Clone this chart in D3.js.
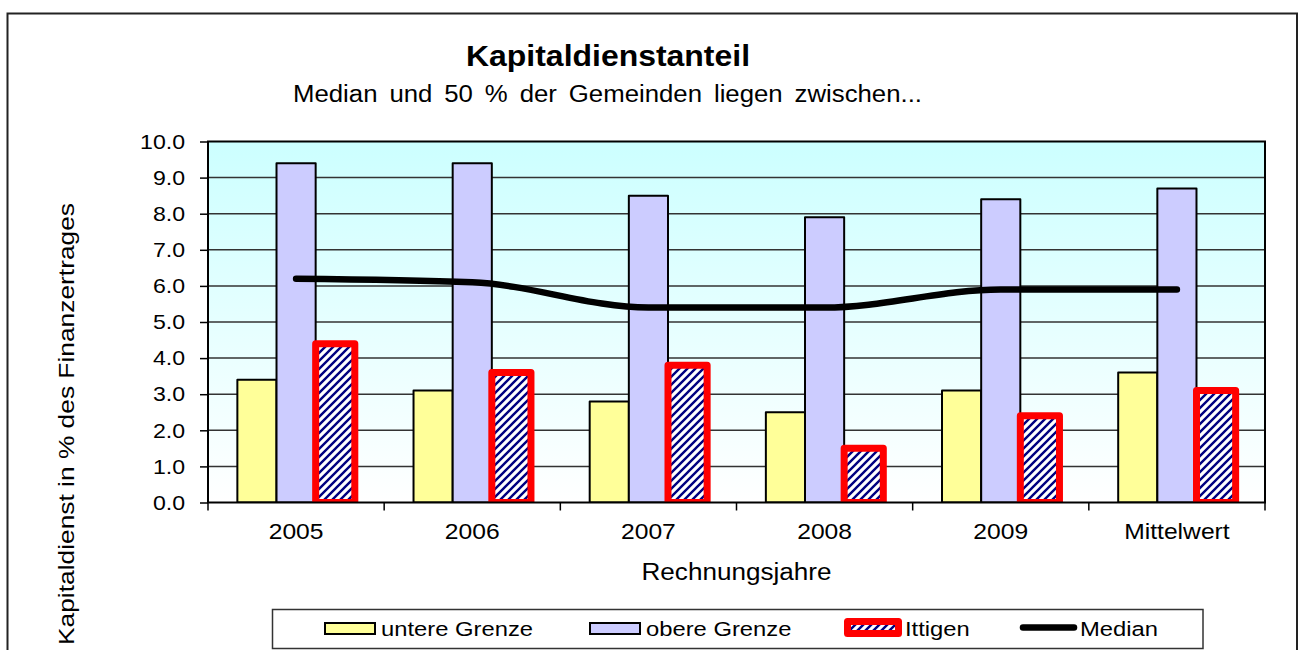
<!DOCTYPE html>
<html>
<head>
<meta charset="utf-8">
<script src="https://cdn.jsdelivr.net/npm/d3@7"></script>
<style>
  body { margin: 0; background: #fff; }
  text { font-family: "Liberation Sans", Arial, sans-serif; fill: #000; }
</style>
</head>
<body>
<div id="chart"></div>
<script>
  // data
  var categories = ["2005", "2006", "2007", "2008", "2009", "Mittelwert"];
  var untereGrenze = [3.4, 3.1, 2.8, 2.5, 3.1, 3.6];
  var obereGrenze = [9.4, 9.4, 8.5, 7.9, 8.4, 8.7];
  var ittigen = [4.4, 3.6, 3.8, 1.5, 2.4, 3.1];
  var median = [6.2, 6.1, 5.4, 5.4, 5.9, 5.9];
  var yTicks = [0, 1, 2, 3, 4, 5, 6, 7, 8, 9, 10];

  var W = 1301, H = 650;
  var plot = {left: 208, right: 1265, top: 141.5, bottom: 502.5};

  // widen text a little, the original font runs wider than Arial
  function stretch(sel, k) {
    sel.each(function() {
      var L = this.getComputedTextLength();
      d3.select(this).attr("textLength", L * k).attr("lengthAdjust", "spacingAndGlyphs");
    });
  }

  var svg = d3.select("#chart").append("svg")
    .attr("width", W)
    .attr("height", H);

  var defs = svg.append("defs");
  var grad = defs.append("linearGradient")
    .attr("id", "bg").attr("x1", 0).attr("y1", 0).attr("x2", 0).attr("y2", 1);
  grad.append("stop").attr("offset", "0%").attr("stop-color", "#ccffff");
  grad.append("stop").attr("offset", "100%").attr("stop-color", "#ffffff");

  var pat = defs.append("pattern")
    .attr("id", "hatch").attr("patternUnits", "userSpaceOnUse")
    .attr("width", 8).attr("height", 8);
  pat.append("rect").attr("width", 8).attr("height", 8).attr("fill", "#fff");
  pat.append("path")
    .attr("d", "M-2,2 L2,-2 M0,8 L8,0 M6,10 L10,6")
    .attr("stroke", "#000080").attr("stroke-width", 2.4);

  defs.append("clipPath").attr("id", "plotclip")
    .append("rect")
      .attr("x", plot.left).attr("y", plot.top)
      .attr("width", plot.right - plot.left).attr("height", plot.bottom - plot.top);

  // outer frame
  svg.append("rect")
    .attr("x", 7.5).attr("y", 13.5).attr("width", 1289.5).attr("height", 650)
    .attr("fill", "none").attr("stroke", "#222").attr("stroke-width", 2);

  // scales
  var x = d3.scaleBand().domain(categories).range([plot.left, plot.right]).padding(0);
  var x1 = d3.scaleBand().domain(["u", "o", "i"]).range([0, x.bandwidth()])
    .paddingInner(0).paddingOuter(0.75);
  var y = d3.scaleLinear().domain([0, 10]).range([plot.bottom, plot.top]);

  // plot background + grid
  svg.append("rect")
    .attr("x", plot.left).attr("y", plot.top)
    .attr("width", plot.right - plot.left).attr("height", plot.bottom - plot.top)
    .attr("fill", "url(#bg)");

  svg.append("g")
    .selectAll("line")
    .data(yTicks.slice(1, -1))
    .enter().append("line")
      .attr("x1", plot.left).attr("x2", plot.right)
      .attr("y1", function(d) { return y(d); })
      .attr("y2", function(d) { return y(d); })
      .attr("stroke", "#333").attr("stroke-width", 1.5);

  // bars
  var bars = svg.append("g").attr("clip-path", "url(#plotclip)");
  var series = [
    {key: "u", values: untereGrenze, fill: "#ffff99", stroke: "#000", sw: 2},
    {key: "o", values: obereGrenze, fill: "#ccccff", stroke: "#000", sw: 2},
    {key: "i", values: ittigen, fill: "url(#hatch)", stroke: "#ff0000", sw: 7}
  ];
  series.forEach(function(s) {
    bars.append("g")
      .selectAll("rect")
      .data(categories)
      .enter().append("rect")
        .attr("x", function(d) { return x(d) + x1(s.key); })
        .attr("y", function(d, i) { return y(s.values[i]); })
        .attr("width", x1.bandwidth())
        .attr("height", function(d, i) { return plot.bottom - y(s.values[i]); })
        .attr("fill", s.fill)
        .attr("stroke", s.stroke)
        .attr("stroke-width", s.sw)
        .attr("stroke-linejoin", "round");
  });

  // plot border
  svg.append("rect")
    .attr("x", plot.left).attr("y", plot.top)
    .attr("width", plot.right - plot.left).attr("height", plot.bottom - plot.top)
    .attr("fill", "none").attr("stroke", "#000").attr("stroke-width", 2);

  // y axis
  var yAxis = svg.append("g")
    .attr("transform", "translate(" + plot.left + ",0)")
    .call(d3.axisLeft(y).tickValues(yTicks).tickFormat(d3.format(".1f"))
      .tickSize(8).tickPadding(15).tickSizeOuter(0));
  yAxis.select(".domain").remove();
  yAxis.selectAll("line").attr("stroke", "#000").attr("stroke-width", 1.5);
  yAxis.selectAll("text").style("font-size", "21px").attr("fill", "#000")
    .call(stretch, 1.1);

  // x axis
  var xAxis = svg.append("g")
    .attr("transform", "translate(0," + plot.bottom + ")")
    .call(d3.axisBottom(x).tickSize(0).tickPadding(21));
  xAxis.select(".domain").remove();
  xAxis.selectAll("text").style("font-size", "22px").attr("fill", "#000")
    .call(stretch, 1.12);
  var edges = categories.map(function(c) { return x(c); }).concat([plot.right]);
  svg.append("g")
    .selectAll("line")
    .data(edges)
    .enter().append("line")
      .attr("x1", function(d) { return d; }).attr("x2", function(d) { return d; })
      .attr("y1", plot.bottom).attr("y2", plot.bottom + 8)
      .attr("stroke", "#000").attr("stroke-width", 1.5);

  // median line
  var line = d3.line()
    .x(function(d, i) { return x(categories[i]) + x.bandwidth() / 2; })
    .y(function(d) { return y(d); })
    .curve(d3.curveMonotoneX);
  svg.append("path")
    .datum(median)
    .attr("d", line)
    .attr("fill", "none")
    .attr("stroke", "#000")
    .attr("stroke-width", 6.5)
    .attr("stroke-linecap", "round");

  // titles
  svg.append("text")
    .attr("x", 608).attr("y", 66)
    .attr("text-anchor", "middle")
    .style("font-size", "29px").style("font-weight", "bold")
    .text("Kapitaldienstanteil")
    .attr("textLength", 284).attr("lengthAdjust", "spacingAndGlyphs");

  var sub = svg.append("text")
    .attr("x", 607.5).attr("y", 102)
    .attr("text-anchor", "middle")
    .style("font-size", "23px")
    .text("Median und 50 % der Gemeinden liegen zwischen...");
  var L0 = sub.node().getComputedTextLength();
  sub.style("word-spacing", ((629 / 1.12 - L0) / 7) + "px")
    .attr("textLength", 629).attr("lengthAdjust", "spacingAndGlyphs");

  svg.append("text")
    .attr("x", (plot.left + plot.right) / 2).attr("y", 580)
    .attr("text-anchor", "middle")
    .style("font-size", "23px")
    .text("Rechnungsjahre")
    .attr("textLength", 190).attr("lengthAdjust", "spacingAndGlyphs");

  svg.append("text")
    .attr("transform", "translate(74,424) rotate(-90)")
    .attr("text-anchor", "middle")
    .style("font-size", "22px")
    .text("Kapitaldienst in % des Finanzertrages")
    .attr("textLength", 442).attr("lengthAdjust", "spacingAndGlyphs");

  // legend
  var legend = svg.append("g");
  legend.append("rect")
    .attr("x", 272.5).attr("y", 609.5).attr("width", 930.5).attr("height", 39)
    .attr("fill", "#fff").attr("stroke", "#333").attr("stroke-width", 1.5);

  var items = [
    {name: "untere Grenze", x: 325, type: "box", fill: "#ffff99", stroke: "#000", sw: 2},
    {name: "obere Grenze", x: 590, type: "box", fill: "#ccccff", stroke: "#000", sw: 2},
    {name: "Ittigen", x: 847.5, type: "ittigen"},
    {name: "Median", x: 1023, type: "line"}
  ];
  items.forEach(function(it) {
    var g = legend.append("g");
    var tx;
    if (it.type === "box") {
      g.append("rect").attr("x", it.x).attr("y", 623).attr("width", 50).attr("height", 11)
        .attr("fill", it.fill).attr("stroke", it.stroke).attr("stroke-width", it.sw);
      tx = it.x + 56;
    } else if (it.type === "ittigen") {
      g.append("rect").attr("x", it.x).attr("y", 621.5).attr("width", 51).attr("height", 12)
        .attr("fill", "url(#hatch)").attr("stroke", "#ff0000").attr("stroke-width", 7)
        .attr("stroke-linejoin", "round");
      tx = 905;
    } else {
      g.append("line").attr("x1", it.x).attr("x2", 1074).attr("y1", 627.5).attr("y2", 627.5)
        .attr("stroke", "#000").attr("stroke-width", 6.5).attr("stroke-linecap", "round");
      tx = 1080;
    }
    g.append("text")
      .attr("x", tx).attr("y", 636)
      .style("font-size", "20.5px")
      .text(it.name)
      .call(stretch, 1.16);
  });
</script>
</body>
</html>
